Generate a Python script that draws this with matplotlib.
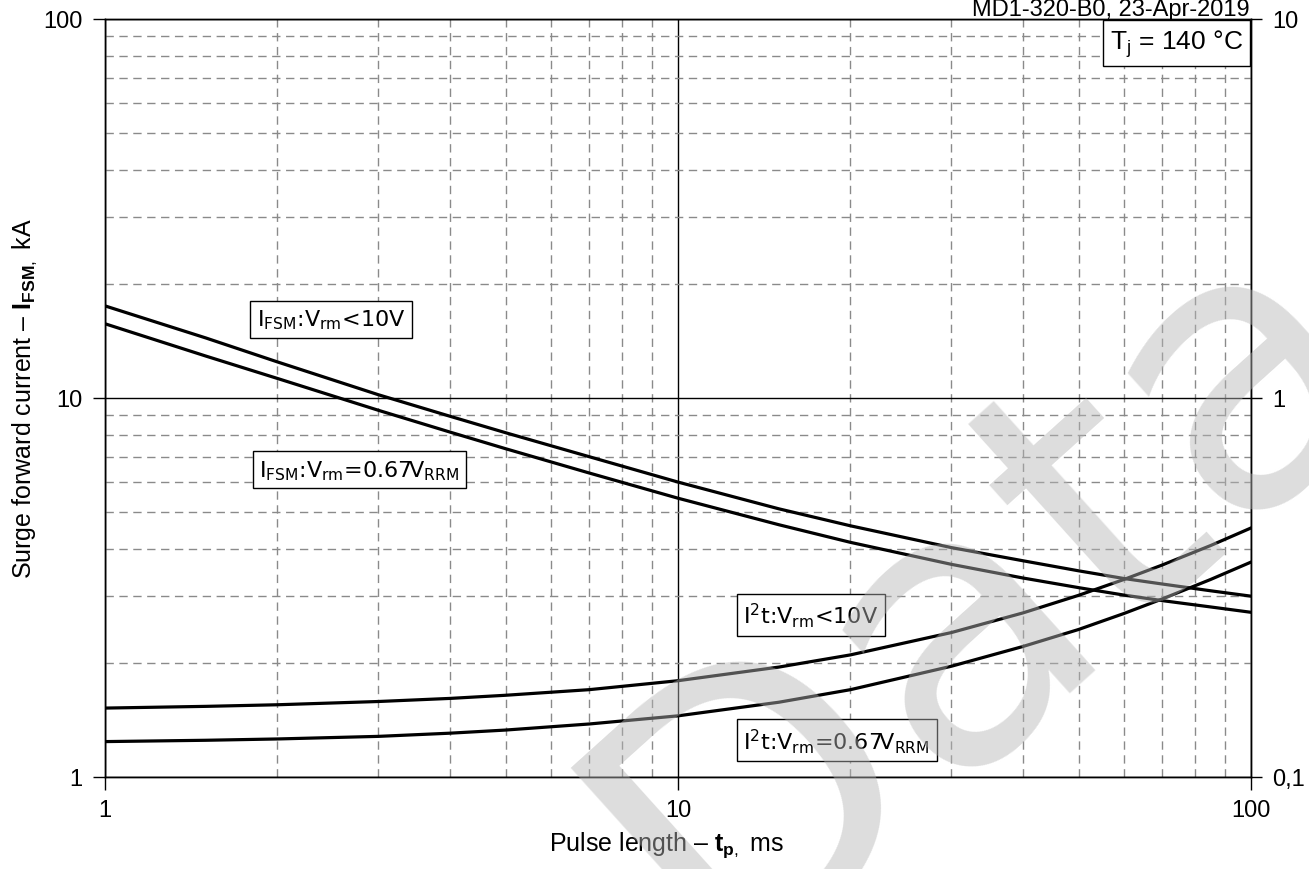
import matplotlib
matplotlib.use('Agg')
import matplotlib.pyplot as plt
from matplotlib.ticker import LogLocator, NullFormatter, FixedLocator, FixedFormatter

plt.rcParams['font.family'] = ['Liberation Sans', 'DejaVu Sans']
plt.rcParams['mathtext.fontset'] = 'custom'
plt.rcParams['mathtext.rm'] = 'Liberation Sans'
plt.rcParams['mathtext.bf'] = 'Liberation Sans:bold'

# pulse length, ms
tp = [1, 1.5, 2, 3, 4, 5, 7, 10, 15, 20, 30, 40, 50, 60, 70, 85, 100]
# surge current, kA
ifsm_low = [17.5, 14.4, 12.45, 10.2, 8.95, 8.1, 7.0, 6.0, 5.1, 4.6, 4.03, 3.72, 3.5, 3.34, 3.23, 3.1, 3.0]
ifsm_rrm = [15.7, 12.9, 11.26, 9.28, 8.13, 7.35, 6.34, 5.44, 4.63, 4.16, 3.64, 3.35, 3.16, 3.02, 2.92, 2.81, 2.72]
# I2t, MA2s (right axis)
i2t_low = [0.152, 0.1536, 0.1551, 0.1582, 0.1612, 0.1643, 0.170, 0.1795, 0.195, 0.210, 0.2405, 0.271, 0.3015, 0.332, 0.3625, 0.408, 0.454]
i2t_rrm = [0.124, 0.125, 0.126, 0.128, 0.1305, 0.133, 0.138, 0.145, 0.1575, 0.170, 0.196, 0.221, 0.245, 0.270, 0.295, 0.332, 0.369]

fig = plt.figure(figsize=(13.09, 8.70), dpi=100)
ax = fig.add_axes([105/1309, 1-778/870, 1146/1309, 758/870])
ax2 = ax.twinx()

ax.set_xscale('log')
ax.set_yscale('log')
ax.set_xlim(1, 100)
ax.set_ylim(1, 100)
ax2.set_yscale('log')
ax2.set_ylim(0.1, 10)

ax.plot(tp, ifsm_low, color='black', lw=2.3, zorder=5)
ax.plot(tp, ifsm_rrm, color='black', lw=2.3, zorder=5)
ax2.plot(tp, i2t_low, color='black', lw=2.3, zorder=5)
ax2.plot(tp, i2t_rrm, color='black', lw=2.3, zorder=5)

ax.xaxis.set_major_locator(FixedLocator([1, 10, 100]))
ax.xaxis.set_major_formatter(FixedFormatter(['1', '10', '100']))
ax.yaxis.set_major_locator(FixedLocator([1, 10, 100]))
ax.yaxis.set_major_formatter(FixedFormatter(['1', '10', '100']))
ax.xaxis.set_minor_locator(LogLocator(base=10, subs=range(2, 10)))
ax.yaxis.set_minor_locator(LogLocator(base=10, subs=range(2, 10)))
ax.xaxis.set_minor_formatter(NullFormatter())
ax.yaxis.set_minor_formatter(NullFormatter())
ax2.yaxis.set_major_locator(FixedLocator([0.1, 1, 10]))
ax2.yaxis.set_major_formatter(FixedFormatter(['0,1', '1', '10']))
ax2.yaxis.set_minor_locator(FixedLocator([]))
ax2.yaxis.set_minor_formatter(NullFormatter())

ax.grid(which='major', color='black', lw=1.0)
ax.grid(which='minor', color='#8a8a8a', lw=1.0, linestyle=(0, (6, 4)))
ax.tick_params(which='major', direction='out', length=9, width=1, labelsize=17, pad=7)
ax.tick_params(which='minor', length=0)
ax2.tick_params(which='major', direction='out', length=8, width=1, labelsize=17, pad=7)
for a in (ax, ax2):
    for s in a.spines.values():
        s.set_linewidth(1.0)

ax.set_xlabel(r'Pulse length – $\mathbf{t}_{\mathbf{p},}$ ms', fontsize=18)
ax.xaxis.set_label_coords(0.49, -0.069)
ax.set_ylabel(r'Surge forward current – $\mathbf{I}_{\mathbf{FSM},}$ kA', fontsize=18)
ax.yaxis.set_label_coords(-0.058, 0.5)

box = dict(boxstyle='square,pad=0.3', fc='white', ec='black', lw=1.0)
lbl = dict(fontsize=16, family='DejaVu Sans', math_fontfamily='dejavusans',
           ha='left', va='center', bbox=box, zorder=6)
ax.text(1.84, 16.1, r'I$_{\mathrm{FSM}}$:V$_{\mathrm{rm}}$<10V', **lbl)
ax.text(1.86, 6.46, r'I$_{\mathrm{FSM}}$:V$_{\mathrm{rm}}$=0.67V$_{\mathrm{RRM}}$', **lbl)
ax.text(13.0, 2.68, r'I$^{2}$t:V$_{\mathrm{rm}}$<10V', **lbl)
ax.text(13.0, 1.25, r'I$^{2}$t:V$_{\mathrm{rm}}$=0.67V$_{\mathrm{RRM}}$', **lbl)

ax.text(0.993, 0.9895, r'T$_{\mathrm{j}}$ = 140 °C', transform=ax.transAxes, fontsize=19,
        ha='right', va='top', bbox=dict(boxstyle='square,pad=0.25', fc='white', ec='black', lw=1.0),
        zorder=6)
fig.text(1250/1309, 1-16/870, 'MD1-320-B0, 23-Apr-2019', fontsize=17, ha='right', va='baseline')

# watermark
fig.text(0.755, 0.32, 'Data', fontsize=275, family='DejaVu Sans', rotation=42,
         color='0.71', alpha=0.46, ha='center', va='center', zorder=20)

fig.savefig('out.png', dpi=100)
